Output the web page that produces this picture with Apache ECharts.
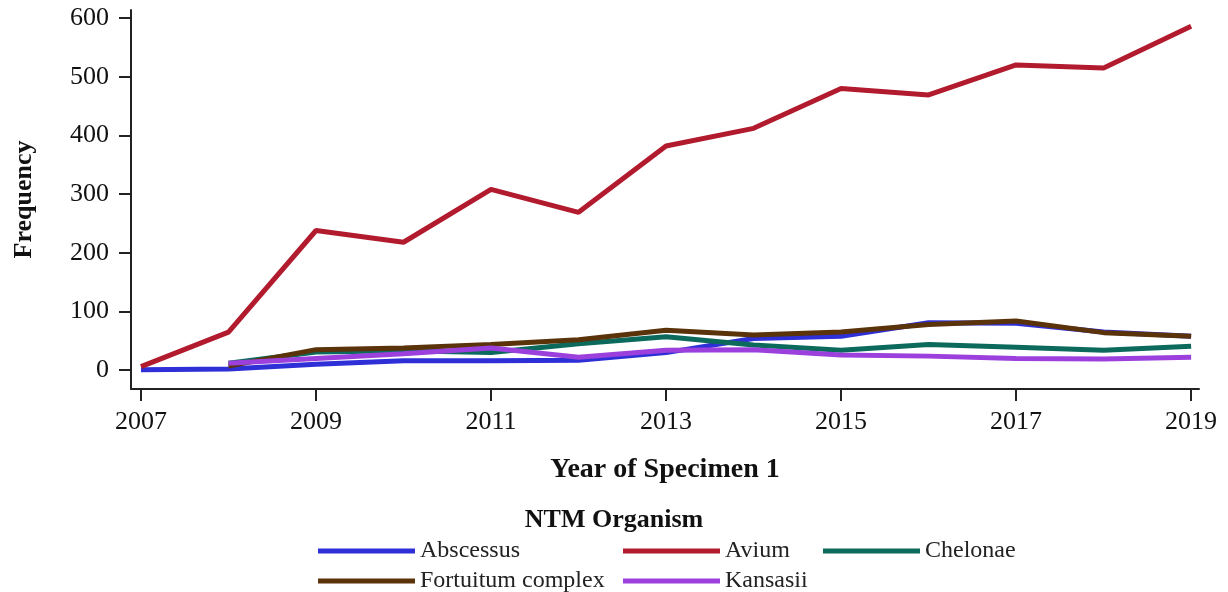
<!DOCTYPE html>
<html>
<head>
<meta charset="utf-8">
<script src="https://cdn.jsdelivr.net/npm/echarts@6/dist/echarts.min.js"></script>
<style>
  html, body {margin: 0; padding: 0; background: #fff;}
  #main {width: 1228px; height: 592px;}
</style>
</head>
<body>
<div id="main"></div>
<script>
// years on the x axis
var years = [2007, 2008, 2009, 2010, 2011, 2012, 2013, 2014, 2015, 2016, 2017, 2018, 2019];
var xTicks = [2007, 2009, 2011, 2013, 2015, 2017, 2019];
var yTicks = [0, 100, 200, 300, 400, 500, 600];

// frequency per organism (null = no data that year)
var abscessus = [1, 2, 10, 16, 16, 17, 30, 54, 58, 81, 80, 65, 58];
var avium = [6, 65, 238, 218, 308, 269, 382, 412, 480, 469, 520, 515, 586];
var chelonae = [null, 12, 31, 33, 30, 45, 57, 43, 34, 44, 39, 34, 41];
var fortuitum = [null, 7, 35, 38, 44, 52, 68, 60, 65, 78, 84, 64, 58];
var kansasii = [null, 12, 20, 28, 38, 22, 34, 35, 26, 24, 20, 19, 22];

var serif = '"Liberation Serif", "Times New Roman", serif';

function pairs(vals) {
    var out = [];
    for (var i = 0; i < vals.length; i++) {
        out.push([years[i], vals[i]]);
    }
    return out;
}

function lineSeries(name, vals, color) {
    return {
        name: name, type: 'line', showSymbol: false, symbol: 'none',
        connectNulls: false,
        lineStyle: {width: 5, color: color},
        itemStyle: {color: color},
        data: pairs(vals)
    };
}

var legendText = {fontFamily: serif, fontSize: 24, color: '#222', lineHeight: 24};
function legendAt(left, names) {
    return {
        orient: 'vertical', left: left, top: 534, height: 120,
        icon: 'rect', itemWidth: 97, itemHeight: 5, itemGap: 6,
        selectedMode: false,
        textStyle: legendText,
        data: names
    };
}

var option = {
    animation: false,
    title: {
        text: 'NTM Organism', left: 'center', top: 502,
        textStyle: {fontFamily: serif, fontSize: 26, fontWeight: 'bold', color: '#111'}
    },
    legend: [
        legendAt(313, ['Abscessus', 'Fortuitum complex']),
        legendAt(618, ['Avium', 'Kansasii']),
        legendAt(818, ['Chelonae'])
    ],
    grid: {left: 131, right: 29, top: 10, bottom: 203},
    xAxis: {
        type: 'value',
        min: 2006.886, max: 2019.09,
        name: 'Year of Specimen 1', nameLocation: 'middle', nameGap: 67,
        nameTextStyle: {fontFamily: serif, fontSize: 28, fontWeight: 'bold', color: '#111'},
        axisLine: {onZero: false, lineStyle: {color: '#222', width: 2}},
        axisTick: {show: true, length: 12, lineStyle: {color: '#222', width: 2}, customValues: xTicks},
        axisLabel: {
            customValues: xTicks, margin: 20,
            fontFamily: serif, fontSize: 26, color: '#111',
            formatter: function (v) { return String(v); }
        },
        splitLine: {show: false}
    },
    yAxis: {
        type: 'value',
        min: -32, max: 613.6,
        name: 'Frequency', nameLocation: 'middle', nameGap: 94,
        nameTextStyle: {fontFamily: serif, fontSize: 26, fontWeight: 'bold', color: '#111'},
        axisLine: {show: true, onZero: false, lineStyle: {color: '#222', width: 2}},
        axisTick: {show: true, length: 12, lineStyle: {color: '#222', width: 2}, customValues: yTicks},
        axisLabel: {
            customValues: yTicks, margin: 22,
            fontFamily: serif, fontSize: 26, color: '#111'
        },
        splitLine: {show: false}
    },
    series: [
        lineSeries('Abscessus', abscessus, '#2f2fd8'),
        lineSeries('Avium', avium, '#b21a2e'),
        lineSeries('Chelonae', chelonae, '#0c6a5d'),
        lineSeries('Fortuitum complex', fortuitum, '#5a330b'),
        lineSeries('Kansasii', kansasii, '#9b40dc')
    ]
};

var myChart = echarts.init(document.getElementById('main'));
myChart.setOption(option);
</script>
</body>
</html>
